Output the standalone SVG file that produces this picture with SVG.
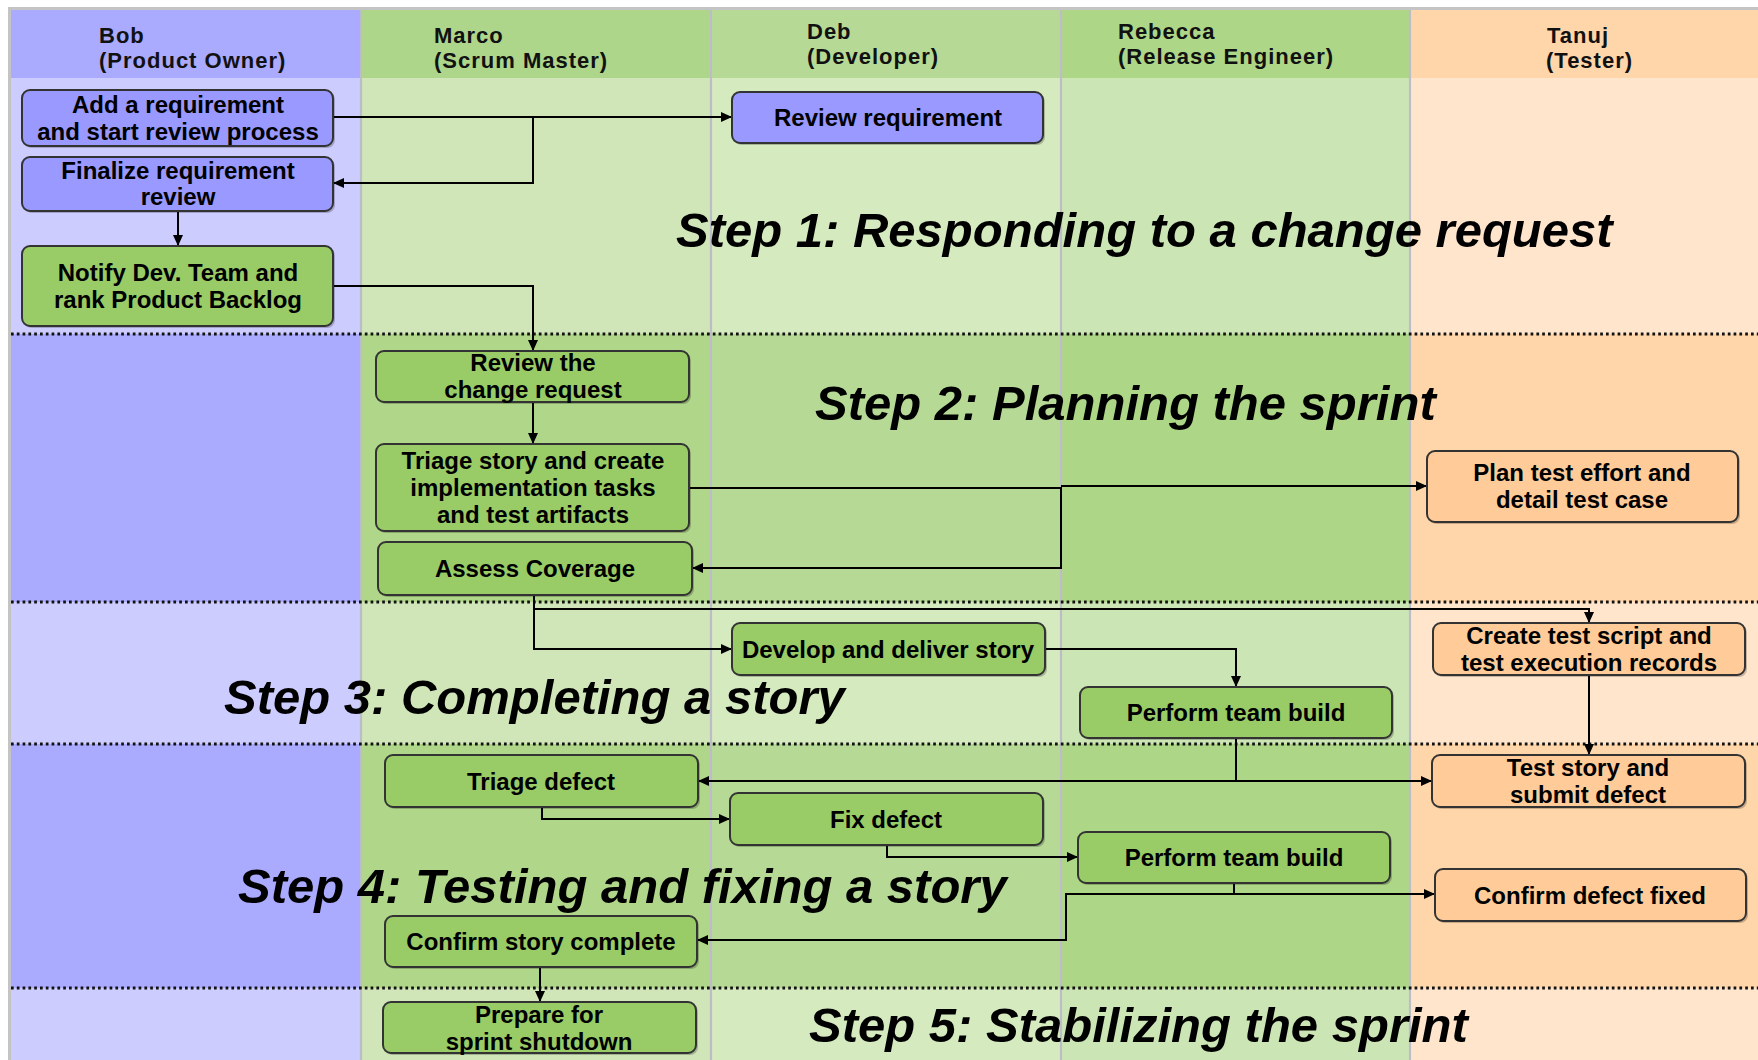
<svg xmlns="http://www.w3.org/2000/svg" width="1758" height="1060" viewBox="0 0 1758 1060">
<style>
.hdr{font-family:"Liberation Sans",Arial,sans-serif;font-weight:bold;font-size:22px;letter-spacing:1px;fill:#111}
.nt{font-family:"Liberation Sans",Arial,sans-serif;font-weight:bold;font-size:24px;fill:#000;text-anchor:middle}
.step{font-family:"Liberation Sans",Arial,sans-serif;font-weight:bold;font-style:italic;font-size:49px;fill:#000}
.box{stroke:#333;stroke-width:2}
.sh{fill:#000;opacity:0.22}
.blue{fill:#9999FF}
.green{fill:#99CC66}
.peach{fill:#FFCC99}
.sep{stroke:#111;stroke-width:2.8;stroke-dasharray:2.7 3.1;fill:none}
.lane{stroke:#BDBDC8;stroke-width:2.2}
.con{fill:none;stroke:#000;stroke-width:2}
.arr{marker-end:url(#ah)}
</style>
<defs>
<marker id="ah" markerUnits="userSpaceOnUse" markerWidth="12" markerHeight="10" refX="11" refY="5" orient="auto">
<path d="M0,0 L11,5 L0,10 z" fill="#000"/>
</marker>
</defs>
<rect x="0" y="0" width="1758" height="1060" fill="#fff"/>
<g id="lanes">
<rect x="10" y="9" width="351" height="69" fill="#AAAAFF"/>
<rect x="10" y="78" width="351" height="256" fill="#CCCCFF"/>
<rect x="10" y="334" width="351" height="268" fill="#AAAAFF"/>
<rect x="10" y="602" width="351" height="142" fill="#CCCCFF"/>
<rect x="10" y="744" width="351" height="244" fill="#AAAAFF"/>
<rect x="10" y="988" width="351" height="72" fill="#CCCCFF"/>
<rect x="361" y="9" width="350" height="69" fill="#AED68A"/>
<rect x="361" y="78" width="350" height="256" fill="#D0E6B8"/>
<rect x="361" y="334" width="350" height="268" fill="#B0D68A"/>
<rect x="361" y="602" width="350" height="142" fill="#D0E6B8"/>
<rect x="361" y="744" width="350" height="244" fill="#B0D68A"/>
<rect x="361" y="988" width="350" height="72" fill="#D0E6B8"/>
<rect x="711" y="9" width="350" height="69" fill="#B6DA96"/>
<rect x="711" y="78" width="350" height="256" fill="#D5EABF"/>
<rect x="711" y="334" width="350" height="268" fill="#B6DA96"/>
<rect x="711" y="602" width="350" height="142" fill="#D5EABF"/>
<rect x="711" y="744" width="350" height="244" fill="#B6DA96"/>
<rect x="711" y="988" width="350" height="72" fill="#D5EABF"/>
<rect x="1061" y="9" width="349" height="69" fill="#AED687"/>
<rect x="1061" y="78" width="349" height="256" fill="#CCE5B5"/>
<rect x="1061" y="334" width="349" height="268" fill="#AED687"/>
<rect x="1061" y="602" width="349" height="142" fill="#CCE5B5"/>
<rect x="1061" y="744" width="349" height="244" fill="#AED687"/>
<rect x="1061" y="988" width="349" height="72" fill="#CCE5B5"/>
<rect x="1410" y="9" width="348" height="69" fill="#FFD5AA"/>
<rect x="1410" y="78" width="348" height="256" fill="#FFE5CC"/>
<rect x="1410" y="334" width="348" height="268" fill="#FFD5AA"/>
<rect x="1410" y="602" width="348" height="142" fill="#FFE5CC"/>
<rect x="1410" y="744" width="348" height="244" fill="#FFD5AA"/>
<rect x="1410" y="988" width="348" height="72" fill="#FFE5CC"/>
<line class="lane" x1="361" y1="9" x2="361" y2="1060"/>
<line class="lane" x1="711" y1="9" x2="711" y2="1060"/>
<line class="lane" x1="1061" y1="9" x2="1061" y2="1060"/>
<line class="lane" x1="1410" y1="9" x2="1410" y2="1060"/>
<path d="M9.5,1060 V8.5 H1758" fill="none" stroke="#C4C4C4" stroke-width="3"/>
</g>
<g id="headers">
<text class="hdr" x="99" y="43">Bob</text>
<text class="hdr" x="99" y="68">(Product Owner)</text>
<text class="hdr" x="434" y="43">Marco</text>
<text class="hdr" x="434" y="68">(Scrum Master)</text>
<text class="hdr" x="807" y="39">Deb</text>
<text class="hdr" x="807" y="64">(Developer)</text>
<text class="hdr" x="1118" y="39">Rebecca</text>
<text class="hdr" x="1118" y="64">(Release Engineer)</text>
<text class="hdr" x="1547" y="43">Tanuj</text>
<text class="hdr" x="1546" y="68">(Tester)</text>
</g>
<g id="separators">
<line class="sep" x1="11" y1="334" x2="1758" y2="334"/>
<line class="sep" x1="11" y1="602" x2="1758" y2="602"/>
<line class="sep" x1="11" y1="744" x2="1758" y2="744"/>
<line class="sep" x1="11" y1="988" x2="1758" y2="988"/>
</g>
<g id="steps">
<text class="step" x="676" y="247">Step 1: Responding to a change request</text>
<text class="step" x="815" y="420">Step 2: Planning the sprint</text>
<text class="step" x="224" y="714">Step 3: Completing a story</text>
<text class="step" x="238" y="903">Step 4: Testing and fixing a story</text>
<text class="step" x="809" y="1042">Step 5: Stabilizing the sprint</text>
</g>
<g id="connectors">
<path class="con arr" d="M333,117 H732"/>
<path class="con arr" d="M533,117 V183 H333"/>
<path class="con arr" d="M178,211 V246"/>
<path class="con arr" d="M333,286 H533 V351"/>
<path class="con arr" d="M533,402 V444"/>
<path class="con arr" d="M689,488 H1061 V568 H692"/>
<path class="con arr" d="M1061,486 H1427"/>
<path class="con arr" d="M534,595 V649 H732"/>
<path class="con arr" d="M534,609 H1589 V623"/>
<path class="con arr" d="M1045,649 H1236 V687"/>
<path class="con arr" d="M1589,675 V755"/>
<path class="con arr" d="M1236,738 V781 H698"/>
<path class="con arr" d="M1236,781 H1432"/>
<path class="con arr" d="M542,807 V819 H730"/>
<path class="con arr" d="M887,845 V857 H1078"/>
<path class="con arr" d="M1234,883 V894 H1435"/>
<path class="con arr" d="M1234,894 H1066 V940 H697"/>
<path class="con arr" d="M540,967 V1002"/>
</g>
<g id="n1"><rect class="sh" x="24" y="92" width="311" height="56" rx="8"/><rect class="box blue" x="22" y="90" width="311" height="56" rx="8"/><text class="nt" x="178" y="113">Add a requirement</text><text class="nt" x="178" y="140">and start review process</text></g>
<g id="n2"><rect class="sh" x="24" y="159" width="311" height="54" rx="8"/><rect class="box blue" x="22" y="157" width="311" height="54" rx="8"/><text class="nt" x="178" y="179">Finalize requirement</text><text class="nt" x="178" y="205">review</text></g>
<g id="n3"><rect class="sh" x="24" y="248" width="311" height="80" rx="8"/><rect class="box green" x="22" y="246" width="311" height="80" rx="8"/><text class="nt" x="178" y="281">Notify Dev. Team and</text><text class="nt" x="178" y="308">rank Product Backlog</text></g>
<g id="n4"><rect class="sh" x="734" y="94" width="311" height="51" rx="8"/><rect class="box blue" x="732" y="92" width="311" height="51" rx="8"/><text class="nt" x="888" y="126">Review requirement</text></g>
<g id="n5"><rect class="sh" x="378" y="353" width="313" height="51" rx="8"/><rect class="box green" x="376" y="351" width="313" height="51" rx="8"/><text class="nt" x="533" y="371">Review the</text><text class="nt" x="533" y="398">change request</text></g>
<g id="n6"><rect class="sh" x="378" y="446" width="313" height="87" rx="8"/><rect class="box green" x="376" y="444" width="313" height="87" rx="8"/><text class="nt" x="533" y="469">Triage story and create</text><text class="nt" x="533" y="496">implementation tasks</text><text class="nt" x="533" y="523">and test artifacts</text></g>
<g id="n7"><rect class="sh" x="380" y="544" width="314" height="53" rx="8"/><rect class="box green" x="378" y="542" width="314" height="53" rx="8"/><text class="nt" x="535" y="577">Assess Coverage</text></g>
<g id="n8"><rect class="sh" x="1429" y="453" width="311" height="71" rx="8"/><rect class="box peach" x="1427" y="451" width="311" height="71" rx="8"/><text class="nt" x="1582" y="481">Plan test effort and</text><text class="nt" x="1582" y="508">detail test case</text></g>
<g id="n9"><rect class="sh" x="734" y="625" width="313" height="52" rx="8"/><rect class="box green" x="732" y="623" width="313" height="52" rx="8"/><text class="nt" x="888" y="658">Develop and deliver story</text></g>
<g id="n10"><rect class="sh" x="1082" y="689" width="312" height="51" rx="8"/><rect class="box green" x="1080" y="687" width="312" height="51" rx="8"/><text class="nt" x="1236" y="721">Perform team build</text></g>
<g id="n11"><rect class="sh" x="1435" y="625" width="312" height="52" rx="8"/><rect class="box peach" x="1433" y="623" width="312" height="52" rx="8"/><text class="nt" x="1589" y="644">Create test script and</text><text class="nt" x="1589" y="671">test execution records</text></g>
<g id="n12"><rect class="sh" x="387" y="757" width="313" height="52" rx="8"/><rect class="box green" x="385" y="755" width="313" height="52" rx="8"/><text class="nt" x="541" y="790">Triage defect</text></g>
<g id="n13"><rect class="sh" x="732" y="795" width="313" height="52" rx="8"/><rect class="box green" x="730" y="793" width="313" height="52" rx="8"/><text class="nt" x="886" y="828">Fix defect</text></g>
<g id="n14"><rect class="sh" x="1080" y="834" width="312" height="51" rx="8"/><rect class="box green" x="1078" y="832" width="312" height="51" rx="8"/><text class="nt" x="1234" y="866">Perform team build</text></g>
<g id="n15"><rect class="sh" x="1434" y="757" width="313" height="52" rx="8"/><rect class="box peach" x="1432" y="755" width="313" height="52" rx="8"/><text class="nt" x="1588" y="776">Test story and</text><text class="nt" x="1588" y="803">submit defect</text></g>
<g id="n16"><rect class="sh" x="1437" y="871" width="311" height="52" rx="8"/><rect class="box peach" x="1435" y="869" width="311" height="52" rx="8"/><text class="nt" x="1590" y="904">Confirm defect fixed</text></g>
<g id="n17"><rect class="sh" x="387" y="918" width="312" height="51" rx="8"/><rect class="box green" x="385" y="916" width="312" height="51" rx="8"/><text class="nt" x="541" y="950">Confirm story complete</text></g>
<g id="n18"><rect class="sh" x="385" y="1004" width="313" height="51" rx="8"/><rect class="box green" x="383" y="1002" width="313" height="51" rx="8"/><text class="nt" x="539" y="1023">Prepare for</text><text class="nt" x="539" y="1050">sprint shutdown</text></g>
</svg>
